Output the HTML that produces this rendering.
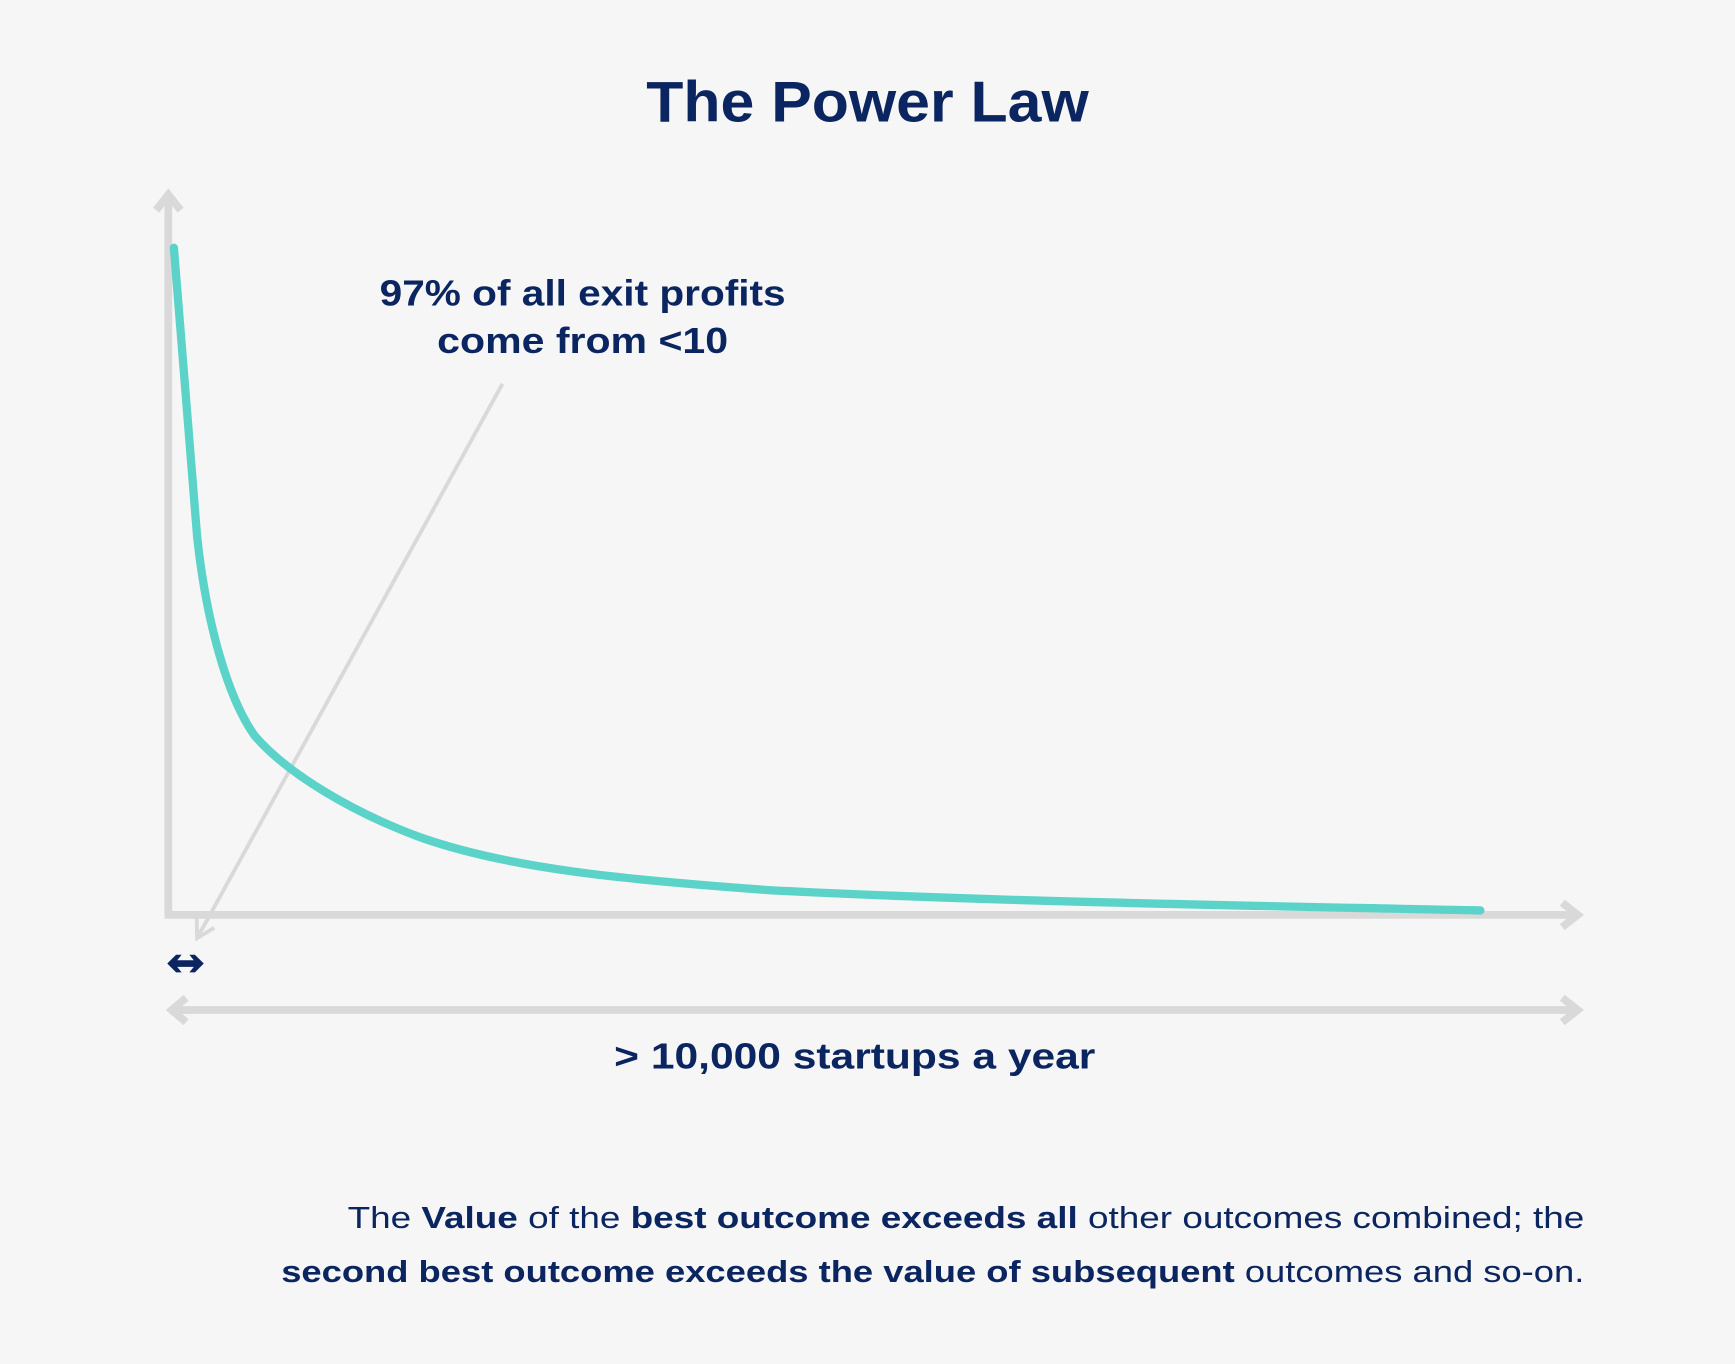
<!DOCTYPE html>
<html><head><meta charset="utf-8"><style>
html,body{margin:0;padding:0;background:#f6f6f6;}
svg{display:block}
text{font-family:"Liberation Sans",sans-serif;fill:#0b2560}
</style></head><body>
<svg width="1735" height="1364" viewBox="0 0 1568 1233" xmlns="http://www.w3.org/2000/svg">
<rect width="1568" height="1233" fill="#f6f6f6"/>
<text x="584" y="110" font-size="52" font-weight="bold" textLength="400" lengthAdjust="spacingAndGlyphs">The Power Law</text>
<g stroke="#d9d9d9" stroke-width="7" fill="none">
<polyline points="152,180 152,827 1424,827"/>
<polyline points="141,190 152,176 163,190" stroke-linejoin="miter"/>
<polyline points="1412,816 1426,827 1412,838"/>
<line x1="156" y1="913" x2="1424" y2="913"/>
<polyline points="168,902 155,913 168,924"/>
<polyline points="1412,902 1426,913 1412,924"/>
</g>
<g stroke="#d9d9d9" stroke-width="3.5" fill="none">
<line x1="454" y1="347" x2="178" y2="848"/>
<polyline points="193.4,838.7 178,848 177.6,830"/>
</g>
<path d="M157,224 L178,485 C186,560 205,630 230,665 C260,700 320,735 380,757 C460,785 560,795 700,805 C900,815 1100,818 1338,823" stroke="#5cd3c9" stroke-width="7.5" fill="none" stroke-linecap="round"/>
<text x="343" y="276" font-size="33" font-weight="bold" textLength="367" lengthAdjust="spacingAndGlyphs">97% of all exit profits</text>
<text x="395" y="319" font-size="33" font-weight="bold" textLength="263" lengthAdjust="spacingAndGlyphs">come from &lt;10</text>
<path d="M151,871 L159,863 L164,863 L160,868 L175,868 L171,863 L176,863 L184,871 L176,879 L171,879 L175,874 L160,874 L164,879 L159,879 Z" fill="#0b2560"/>
<text x="555" y="966" font-size="33" font-weight="bold" textLength="435" lengthAdjust="spacingAndGlyphs">&gt; 10,000 startups a year</text>
<text x="314" y="1110" font-size="28" textLength="1118" lengthAdjust="spacingAndGlyphs">The <tspan font-weight="bold">Value</tspan> of the <tspan font-weight="bold">best outcome exceeds all</tspan> other outcomes combined; the</text>
<text x="254" y="1159" font-size="28" textLength="1178" lengthAdjust="spacingAndGlyphs"><tspan font-weight="bold">second best outcome exceeds the value of subsequent</tspan> outcomes and so-on.</text>
</svg>
</body></html>
